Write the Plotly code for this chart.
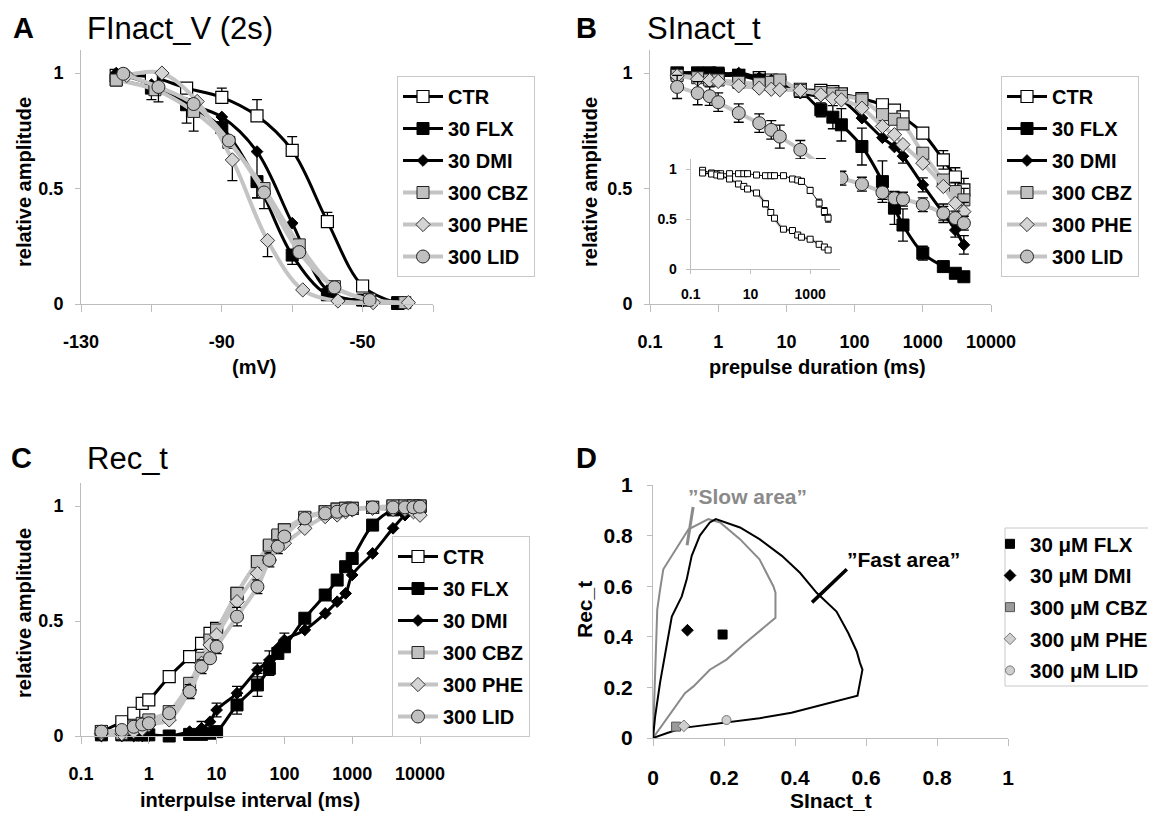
import plotly.graph_objects as go

# ---------------- DATA ----------------
# Panel A: FInact_V (2s)
A_x_ctr = [-120, -110, -100, -90, -80, -70, -60, -50, -40]
A_ctr = [0.99, 0.983, 0.935, 0.895, 0.815, 0.665, 0.357, 0.078, 0.003]
A_ctr_err = [0, 0, 0, 0.04, 0.07, 0.06, 0.04, 0, 0]
A_x_flx = [-120, -110, -100, -90, -80, -70, -60, -50, -40]
A_flx = [0.97, 0.935, 0.863, 0.764, 0.53, 0.212, 0.04, 0.017, 0.006]
A_flx_err = [0, 0.05, 0.08, 0, 0.07, 0.04, 0, 0, 0]
A_x_dmi = [-120, -110, -100, -90, -80, -70, -60, -50, -40]
A_dmi = [1.0, 0.95, 0.87, 0.81, 0.66, 0.35, 0.06, 0.01, 0.0]
A_dmi_err = [0, 0, 0, 0, 0.2, 0, 0, 0, 0]
A_x_cbz = [-120, -109, -98, -88, -78, -68, -58, -48, -38]
A_cbz = [0.97, 0.928, 0.834, 0.70, 0.50, 0.256, 0.075, 0.02, 0.006]
A_cbz_err = [0, 0, 0.085, 0, 0.087, 0, 0, 0, 0]
A_x_phe = [-117, -107, -97, -87, -77, -67, -57, -47, -37]
A_phe = [0.99, 1.0, 0.877, 0.624, 0.275, 0.061, 0.013, 0.006, 0.006]
A_phe_err = [0, 0, 0, 0.09, 0.07, 0, 0, 0, 0]
A_x_lid = [-118, -108, -98, -88, -78, -68, -58, -48]
A_lid = [0.997, 0.94, 0.866, 0.708, 0.483, 0.225, 0.072, 0.017]
A_lid_err = [0, 0.065, 0, 0, 0, 0, 0, 0]

# Panel B: SInact_t
B_x = [0.25, 0.5, 0.75, 1, 2, 4, 6, 8, 16, 32, 48, 64, 128, 256, 384, 512, 1000, 2000, 3000, 4000]
B_ctr = [1.0, 1.0, 1.0, 0.99, 0.99, 0.98, 0.97, 0.96, 0.93, 0.925, 0.92, 0.91, 0.89, 0.863, 0.84, 0.81, 0.74, 0.624, 0.55, 0.494]
B_ctr_err = [0, 0, 0, 0, 0, 0, 0, 0, 0, 0, 0, 0, 0, 0, 0, 0, 0, 0.04, 0.04, 0.05]
B_flx = [1.0, 1.0, 1.0, 1.0, 0.99, 0.97, 0.96, 0.95, 0.92, 0.841, 0.809, 0.776, 0.682, 0.53, 0.415, 0.342, 0.22, 0.162, 0.133, 0.118]
B_flx_err = [0, 0, 0, 0, 0, 0, 0, 0, 0, 0.03, 0.05, 0.07, 0.08, 0.09, 0.07, 0.07, 0.03, 0, 0, 0]
B_dmi = [1.0, 1.0, 0.99, 0.99, 1.0, 0.98, 0.97, 0.96, 0.913, 0.90, 0.89, 0.884, 0.805, 0.72, 0.68, 0.64, 0.516, 0.393, 0.32, 0.256]
B_dmi_err = [0, 0, 0, 0, 0, 0, 0, 0, 0, 0, 0, 0, 0, 0, 0, 0.03, 0.03, 0.04, 0.03, 0.04]
B_cbz = [0.99, 0.98, 0.97, 0.97, 0.96, 0.954, 0.96, 0.97, 0.925, 0.916, 0.91, 0.90, 0.884, 0.82, 0.80, 0.78, 0.653, 0.537, 0.487, 0.451]
B_cbz_err = [0, 0, 0, 0, 0, 0, 0, 0, 0, 0, 0, 0, 0, 0, 0, 0, 0, 0, 0.04, 0.05]
B_phe = [0.988, 0.974, 0.968, 0.964, 0.945, 0.935, 0.93, 0.928, 0.925, 0.906, 0.889, 0.884, 0.848, 0.769, 0.733, 0.69, 0.61, 0.509, 0.436, 0.40]
B_phe_err = [0, 0, 0, 0, 0, 0, 0, 0, 0, 0, 0, 0, 0, 0, 0, 0, 0, 0, 0, 0.04]
B_lid = [0.94, 0.913, 0.90, 0.874, 0.827, 0.783, 0.754, 0.725, 0.668, 0.60, 0.562, 0.545, 0.519, 0.483, 0.458, 0.454, 0.43, 0.393, 0.372, 0.35]
B_lid_err = [0.05, 0.05, 0.04, 0.04, 0.04, 0.04, 0.04, 0.05, 0.04, 0.03, 0.03, 0.03, 0.03, 0.03, 0.03, 0.03, 0.03, 0.03, 0.03, 0.03]

# Panel B inset
In_x = [0.25, 0.5, 0.75, 1, 2, 4, 6, 8, 16, 32, 48, 64, 128, 256, 384, 512, 1000, 2000, 3000, 4000]
In_upper = [0.987, 0.96, 0.953, 0.953, 0.953, 0.953, 0.953, 0.953, 0.94, 0.933, 0.933, 0.933, 0.933, 0.9, 0.89, 0.876, 0.786, 0.659, 0.575, 0.508]
In_upper_err = [0.02, 0.02, 0, 0, 0, 0, 0, 0, 0, 0, 0, 0, 0, 0.02, 0.02, 0.03, 0.03, 0.04, 0.04, 0.04]
In_lower = [0.96, 0.95, 0.94, 0.93, 0.9, 0.85, 0.826, 0.80, 0.76, 0.652, 0.565, 0.508, 0.398, 0.385, 0.34, 0.318, 0.298, 0.247, 0.22, 0.19]
In_lower_err = [0.02, 0.02, 0, 0, 0, 0, 0, 0, 0, 0.03, 0.03, 0, 0, 0, 0.02, 0, 0, 0, 0, 0.02]

# Panel C: Rec_t
C_x = [0.2, 0.4, 0.6, 0.8, 1, 2, 4, 6, 8, 10, 20, 40, 60, 80, 100, 200, 400, 600, 800, 1000, 2000, 4000, 6000, 8000, 10000]
C_ctr = [0.019, 0.062, 0.099, 0.142, 0.157, 0.258, 0.345, 0.403, 0.446, 0.468, 0.62, 0.758, 0.823, 0.867, 0.896, 0.946, 0.975, 0.986, 0.99, 0.99, 0.994, 1.0, 1.0, 1.0, 1.0]
C_ctr_err = [0] * 25
C_flx = [0.005, 0.005, 0.005, 0.005, 0.005, 0.0, 0.007, 0.007, 0.012, 0.019, 0.135, 0.222, 0.294, 0.359, 0.388, 0.512, 0.613, 0.678, 0.736, 0.772, 0.917, 0.983, 0.99, 0.995, 0.997]
C_flx_err = [0, 0, 0, 0, 0, 0, 0, 0, 0, 0, 0.04, 0.05, 0.03, 0, 0, 0, 0, 0, 0, 0, 0, 0, 0, 0, 0]
C_dmi = [0.0, 0.0, 0.0, 0.0, 0.0, 0.0, 0.019, 0.033, 0.062, 0.113, 0.186, 0.287, 0.33, 0.381, 0.417, 0.461, 0.533, 0.584, 0.62, 0.7, 0.794, 0.903, 0.96, 0.983, 0.99]
C_dmi_err = [0, 0, 0, 0, 0, 0, 0, 0.03, 0, 0.03, 0.03, 0.03, 0.04, 0, 0.03, 0, 0, 0, 0, 0, 0, 0, 0, 0, 0]
C_cbz = [0.02, 0.012, 0.04, 0.055, 0.07, 0.106, 0.229, 0.338, 0.417, 0.461, 0.62, 0.758, 0.83, 0.874, 0.896, 0.951, 0.975, 0.986, 0.99, 0.99, 0.994, 1.0, 1.0, 1.0, 1.0]
C_cbz_err = [0] * 25
C_phe = [0.01, 0.01, 0.02, 0.03, 0.048, 0.07, 0.2, 0.316, 0.396, 0.439, 0.584, 0.707, 0.765, 0.823, 0.838, 0.903, 0.954, 0.961, 0.975, 0.983, 0.99, 0.985, 0.985, 0.975, 0.96]
C_phe_err = [0, 0, 0, 0, 0, 0, 0, 0, 0, 0, 0, 0, 0.03, 0.03, 0, 0, 0, 0, 0, 0, 0, 0, 0, 0, 0]
C_lid = [0.019, 0.026, 0.04, 0.05, 0.055, 0.099, 0.193, 0.301, 0.338, 0.388, 0.519, 0.649, 0.765, 0.823, 0.867, 0.946, 0.968, 0.975, 0.983, 0.986, 0.994, 0.994, 0.994, 0.994, 0.997]
C_lid_err = [0, 0, 0, 0, 0, 0, 0.03, 0.03, 0, 0.03, 0.04, 0.03, 0, 0, 0, 0, 0, 0, 0, 0, 0, 0, 0, 0, 0]

# Panel D: Rec_t vs SInact_t
D_fast_x = [0.0, 0.006, 0.02, 0.039, 0.053, 0.081, 0.095, 0.109, 0.132, 0.16, 0.177, 0.245, 0.30, 0.363, 0.414, 0.461, 0.517, 0.55, 0.574, 0.583, 0.59, 0.576, 0.39, 0.30, 0.2, 0.085, 0.04, 0.0]
D_fast_y = [0.0, 0.085, 0.22, 0.376, 0.48, 0.56, 0.627, 0.72, 0.80, 0.852, 0.865, 0.832, 0.786, 0.72, 0.653, 0.574, 0.50, 0.415, 0.342, 0.297, 0.27, 0.167, 0.10, 0.078, 0.06, 0.04, 0.02, 0.0]
D_slow_x = [0.0, 0.003, 0.006, 0.012, 0.02, 0.029, 0.1, 0.156, 0.189, 0.245, 0.30, 0.339, 0.345, 0.345, 0.254, 0.207, 0.16, 0.114, 0.09, 0.067, 0.039, 0.015, 0.0]
D_slow_y = [0.0, 0.138, 0.32, 0.508, 0.587, 0.667, 0.825, 0.865, 0.852, 0.786, 0.706, 0.60, 0.574, 0.475, 0.369, 0.31, 0.27, 0.204, 0.177, 0.131, 0.078, 0.032, 0.0]
D_names = ["30 μM FLX", "30 μM DMI", "300 μM CBZ", "300 μM PHE", "300 μM LID"]
D_sinact = [0.196, 0.097, 0.065, 0.087, 0.207]
D_rec = [0.409, 0.426, 0.045, 0.048, 0.071]

series_names = ["CTR", "30 FLX", "30 DMI", "300 CBZ", "300 PHE", "300 LID"]

# ---------------- STYLE ----------------
W, H = 1156, 816
OFF = 8  # page body margin of the written html
FONT = "Liberation Sans"
AX = "#bdbdbd"
GRAYLINE = "#c4c4c4"
GRAYFILL = "#c0c0c0"


def fx(p):
    return (p - OFF) / W


def fy(p):
    return 1 - (p - OFF) / H


STY = {
    "CTR": dict(line=dict(color="black", width=3), marker=dict(symbol="square", size=12, color="white", line=dict(color="black", width=1.2))),
    "30 FLX": dict(line=dict(color="black", width=3), marker=dict(symbol="square", size=12, color="black", line=dict(color="black", width=1))),
    "30 DMI": dict(line=dict(color="black", width=3), marker=dict(symbol="diamond", size=9, color="black", line=dict(color="black", width=1))),
    "300 CBZ": dict(line=dict(color=GRAYLINE, width=4), marker=dict(symbol="square", size=12, color=GRAYFILL, line=dict(color="#222", width=1))),
    "300 PHE": dict(line=dict(color=GRAYLINE, width=4), marker=dict(symbol="diamond", size=11, color="#d4d4d4", line=dict(color="#333", width=1))),
    "300 LID": dict(line=dict(color=GRAYLINE, width=4), marker=dict(symbol="circle", size=13, color=GRAYFILL, line=dict(color="#222", width=1))),
}

fig = go.Figure()


def add_series(name, xs, ys, err, xa, ya, leg, panel, asym=None):
    st = STY[name]
    if asym == "up":
        ey = dict(type="data", symmetric=False, array=err, arrayminus=[0] * len(err), color="black", thickness=1.3, width=5)
    elif asym == "down":
        ey = dict(type="data", symmetric=False, array=[0] * len(err), arrayminus=err, color="black", thickness=1.3, width=5)
    else:
        ey = dict(type="data", array=err, color="black", thickness=1.3, width=5)
    fig.add_trace(go.Scatter(
        x=xs, y=ys, name=name, mode="lines+markers",
        line=dict(shape="spline", smoothing=1.0, **st["line"]),
        marker=st["marker"], error_y=ey, cliponaxis=False,
        xaxis=xa, yaxis=ya, legend=leg, legendgroup=panel + name,
    ))


# Panel A
A_sets = [(A_x_ctr, A_ctr, A_ctr_err, "up"), (A_x_flx, A_flx, A_flx_err, "down"), (A_x_dmi, A_dmi, A_dmi_err, "down"),
          (A_x_cbz, A_cbz, A_cbz_err, "down"), (A_x_phe, A_phe, A_phe_err, "down"), (A_x_lid, A_lid, A_lid_err, "down")]
for nm, (xs, ys, er, a) in zip(series_names, A_sets):
    add_series(nm, xs, ys, er, "x", "y", "legend", "A", a)

# Panel B
B_sets = [(B_ctr, B_ctr_err), (B_flx, B_flx_err), (B_dmi, B_dmi_err), (B_cbz, B_cbz_err), (B_phe, B_phe_err), (B_lid, B_lid_err)]
for nm, (ys, er) in zip(series_names, B_sets):
    add_series(nm, B_x, ys, er, "x2", "y2", "legend2", "B")

# Inset
fig.add_trace(go.Scatter(x=In_x, y=In_lower, mode="lines", line=dict(color=GRAYLINE, width=3, shape="spline"),
                         showlegend=False, xaxis="x3", yaxis="y3", hoverinfo="skip"))
for ys, er in [(In_upper, In_upper_err), (In_lower, In_lower_err)]:
    fig.add_trace(go.Scatter(
        x=In_x, y=ys, mode="lines+markers", showlegend=False,
        line=dict(color="black", width=1, shape="spline"),
        marker=dict(symbol="square", size=6, color="white", line=dict(color="black", width=1)),
        error_y=dict(type="data", array=er, color="black", thickness=1, width=3),
        xaxis="x3", yaxis="y3", cliponaxis=False))

# Panel C
C_sets = [(C_ctr, C_ctr_err), (C_flx, C_flx_err), (C_dmi, C_dmi_err), (C_cbz, C_cbz_err), (C_phe, C_phe_err), (C_lid, C_lid_err)]
for nm, (ys, er) in zip(series_names, C_sets):
    add_series(nm, C_x, ys, er, "x4", "y4", "legend3", "C")

# Panel D
fig.add_trace(go.Scatter(x=D_slow_x, y=D_slow_y, mode="lines", line=dict(color="#8a8a8a", width=2),
                         showlegend=False, xaxis="x5", yaxis="y5"))
fig.add_trace(go.Scatter(x=D_fast_x, y=D_fast_y, mode="lines", line=dict(color="black", width=2),
                         showlegend=False, xaxis="x5", yaxis="y5"))
D_mk = [
    dict(symbol="square", size=9, color="black", line=dict(color="black", width=1)),
    dict(symbol="diamond", size=9, color="black", line=dict(color="black", width=1)),
    dict(symbol="square", size=9, color="#9a9a9a", line=dict(color="#555", width=1)),
    dict(symbol="diamond", size=9, color="#cfcfcf", line=dict(color="#777", width=1)),
    dict(symbol="circle", size=9, color="#cfcfcf", line=dict(color="#777", width=1)),
]
for nm, sx, ry, mk in zip(D_names, D_sinact, D_rec, D_mk):
    fig.add_trace(go.Scatter(x=[sx], y=[ry], mode="markers", name=nm, marker=mk,
                             xaxis="x5", yaxis="y5", legend="legend4", legendgroup="D" + nm, cliponaxis=False))


def axis(dom, anchor, size=18, **kw):
    d = dict(domain=dom, anchor=anchor, showline=True, linecolor=AX, linewidth=1, ticks="outside",
             tickcolor=AX, ticklen=7, tickwidth=1, showgrid=False, zeroline=False, automargin=False,
             tickfont=dict(family=FONT, size=size, color="black", weight="bold"))
    d.update(kw)
    return d


yt = dict(tickvals=[0, 0.5, 1], ticktext=["0", "0.5", "1"], range=[0, 1.1], ticklen=5)
logt = dict(type="log", range=[-1, 4], tickvals=[0.1, 1, 10, 100, 1000, 10000],
            ticktext=["0.1", "1", "10", "100", "1000", "10000"])


def leg(x, y, size=20, gap=3):
    return dict(x=fx(x), y=fy(y), xanchor="left", yanchor="top", bgcolor="white",
                bordercolor="#c8c8c8", borderwidth=1, font=dict(family=FONT, size=size, color="black", weight="bold"),
                tracegroupgap=gap, itemwidth=40)


fig.update_layout(
    width=W, height=H, margin=dict(l=0, r=0, t=0, b=0, autoexpand=False),
    paper_bgcolor="white", plot_bgcolor="white", hovermode=False,
    xaxis=axis([fx(81), fx(433)], "y", range=[-130, -30], tickvals=[-130, -110, -90, -70, -50, -30],
               ticktext=["-130", "", "-90", "", "-50", ""], ticklabelstandoff=14),
    yaxis=axis([fy(304), fy(50)], "x", ticklabelstandoff=8, **yt),
    xaxis2=axis([fx(650), fx(991)], "y2", ticklabelstandoff=14, **logt),
    yaxis2=axis([fy(304), fy(50)], "x2", ticklabelstandoff=8, **yt),
    xaxis3=axis([fx(690.7), fx(840)], "y3", size=14, type="log", range=[-1, 4], tickvals=[0.1, 10, 1000],
                ticktext=["0.1", "10", "1000"], ticklen=4, ticklabelstandoff=8),
    yaxis3=axis([fy(269), fy(159)], "x3", size=14, tickvals=[0, 0.5, 1], ticktext=["0", "0.5", "1"],
                range=[0, 1.1], ticklen=4, ticklabelstandoff=6),
    xaxis4=axis([fx(81), fx(420)], "y4", ticklabelstandoff=14, **logt),
    yaxis4=axis([fy(736), fy(483)], "x4", ticklabelstandoff=8, **yt),
    xaxis5=axis([fx(653), fx(1008)], "y5", size=21, range=[0, 1], tickvals=[0, 0.2, 0.4, 0.6, 0.8, 1],
                ticktext=["0", "0.2", "0.4", "0.6", "0.8", "1"], ticklabelstandoff=14),
    yaxis5=axis([fy(738), fy(485)], "x5", size=21, range=[0, 1], tickvals=[0, 0.2, 0.4, 0.6, 0.8, 1],
                ticktext=["0", "0.2", "0.4", "0.6", "0.8", "1"], ticklen=5, ticklabelstandoff=10),
    legend=leg(397, 76),
    legend2=leg(1001, 76),
    legend3=leg(392, 536),
    legend4=dict(leg(990, 524, 20.5, 2), itemwidth=30, bgcolor="rgba(0,0,0,0)", borderwidth=0),
)

anns = []


def txt(t, x, y, size, bold=True, angle=0, color="black", xanchor="center"):
    anns.append(dict(text=t, x=fx(x), y=fy(y), xref="paper", yref="paper", showarrow=False, textangle=angle,
                     xanchor=xanchor, yanchor="middle",
                     font=dict(family=FONT, size=size, color=color, weight="bold" if bold else "normal")))


# panel letters and titles
for L, x, y in [("A", 11, 28), ("B", 574, 28), ("C", 9, 458), ("D", 574, 458)]:
    txt(L, x, y, 29, True, xanchor="left")
for T, x, y in [("FInact_V (2s)", 85, 28), ("SInact_t", 645, 28), ("Rec_t", 85, 458)]:
    txt(T, x, y, 31, False, xanchor="left")
# axis titles
txt("relative amplitude", 24, 182, 20, angle=-90)
txt("relative amplitude", 590, 182, 20, angle=-90)
txt("relative amplitude", 24, 613, 20, angle=-90)
txt("Rec_t", 584, 610, 21, angle=-90)
txt("(mV)", 254, 367, 20)
txt("prepulse duration (ms)", 817, 367, 20)
txt("interpulse interval (ms)", 250, 800, 20)
txt("SInact_t", 831, 800, 21)

# D annotations
anns.append(dict(text="”Slow area”", x=0.265, y=0.956, xref="x5", yref="y5", showarrow=False,
                 font=dict(family=FONT, size=21, color="#8a8a8a", weight="bold")))
anns.append(dict(text="”Fast area”", x=0.707, y=0.706, xref="x5", yref="y5", showarrow=False,
                 font=dict(family=FONT, size=21, color="black", weight="bold")))
fig.update_layout(annotations=anns)

fig.update_layout(shapes=[
    dict(type="line", xref="x5", yref="y5", x0=0.113, y0=0.913, x1=0.096, y1=0.762, line=dict(color="#8a8a8a", width=3)),
    dict(type="line", xref="x5", yref="y5", x0=0.448, y0=0.536, x1=0.546, y1=0.667, line=dict(color="black", width=3.5)),
    # frame of the panel D legend
    dict(type="rect", xref="paper", yref="paper", x0=fx(1005), x1=fx(1153), y0=fy(686), y1=fy(528),
         line=dict(color="#c8c8c8", width=1), fillcolor="white", layer="below"),
])

fig.write_html("out.html")
